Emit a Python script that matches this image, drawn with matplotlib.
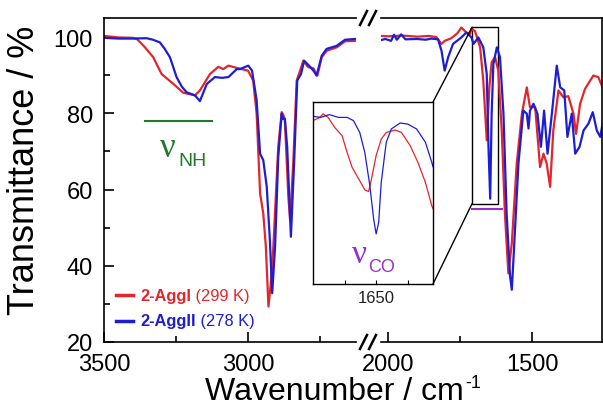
import numpy as np
import matplotlib
matplotlib.use('Agg')
from matplotlib import pyplot as plt
from matplotlib.lines import Line2D
from matplotlib.patches import Rectangle, ConnectionPatch
from matplotlib.ticker import MultipleLocator, FixedLocator

plt.rcParams['font.family'] = ['Liberation Sans', 'DejaVu Sans']

# ---- data ----
# high wavenumber part (3500 - 2625 cm-1)
hi_wn_red = [3500, 3450, 3400, 3386, 3360, 3329, 3300, 3259, 3225, 3184, 3167, 3132,
             3103, 3086, 3068, 3034, 3000, 2982, 2970, 2958, 2947, 2938, 2929, 2920,
             2912, 2895, 2883, 2877, 2872, 2860, 2854, 2843, 2831, 2819, 2808, 2791,
             2773, 2759, 2744, 2727, 2692, 2663, 2628]
hi_red = [100.3, 99.9, 99.8, 99.5, 97.5, 94.7, 90.3, 87.7, 85.4, 84.7, 86.0, 90.3,
          92.2, 91.6, 92.5, 91.8, 91.2, 88.6, 79.9, 59.0, 53.7, 45.0, 29.3, 36.0,
          45.0, 71.2, 80.3, 79.5, 78.1, 58.2, 52.0, 66.8, 88.6, 91.2, 93.8, 92.1,
          91.8, 89.9, 94.7, 96.4, 97.3, 98.9, 99.0]
hi_wn_blue = [3500, 3450, 3400, 3352, 3330, 3306, 3290, 3271, 3248, 3230, 3213, 3184,
              3167, 3143, 3115, 3090, 3068, 3039, 3028, 2999, 2986, 2970, 2958, 2947,
              2935, 2924, 2916, 2906, 2895, 2883, 2878, 2872, 2864, 2851, 2840, 2829,
              2816, 2805, 2788, 2773, 2762, 2744, 2727, 2692, 2663, 2628]
hi_blue = [99.8, 99.6, 99.6, 99.7, 99.3, 98.6, 97.0, 94.7, 89.5, 87.0, 85.5, 84.7,
           83.2, 87.7, 89.5, 89.3, 89.5, 91.6, 91.6, 92.5, 91.2, 83.4, 69.4, 67.7,
           60.8, 46.7, 32.8, 45.0, 68.5, 79.9, 78.5, 78.6, 71.2, 47.6, 66.8, 88.6,
           90.3, 93.8, 92.5, 91.2, 89.9, 95.1, 96.9, 97.7, 99.3, 99.5]

# low wavenumber part (2025 - 1255 cm-1)
lo_wn_red = [2025, 2000, 1950, 1900, 1860, 1833, 1815, 1804, 1781, 1760, 1746, 1729,
             1716, 1711, 1699, 1681, 1670, 1658, 1649, 1641, 1629, 1618, 1606, 1595,
             1583, 1571, 1554, 1536, 1519, 1508, 1490, 1473, 1461, 1450, 1438, 1427,
             1409, 1392, 1375, 1357, 1348, 1334, 1317, 1288, 1271, 1256]
lo_red = [100.3, 100.2, 100.4, 100.1, 100.3, 100.0, 98.2, 99.0, 99.7, 101.0, 102.5, 101.2,
          100.8, 102.1, 101.6, 97.3, 88.6, 72.9, 86.8, 93.4, 94.7, 91.2, 75.5, 53.7,
          38.0, 45.9, 66.8, 79.9, 86.8, 81.6, 81.6, 65.9, 69.4, 66.8, 60.7, 75.5,
          86.0, 84.2, 84.5, 79.9, 74.6, 82.5, 86.4, 89.9, 89.5, 86.8]
lo_wn_blue = [2025, 2010, 1990, 1980, 1970, 1955, 1940, 1900, 1870, 1850, 1827, 1815,
              1804, 1792, 1775, 1746, 1729, 1711, 1704, 1687, 1670, 1658, 1652, 1646,
              1641, 1635, 1623, 1612, 1600, 1589, 1577, 1571, 1563, 1548, 1531, 1519,
              1513, 1508, 1496, 1482, 1470, 1459, 1447, 1432, 1415, 1403, 1389, 1378,
              1363, 1351, 1336, 1322, 1305, 1290, 1276, 1264, 1256]
lo_blue = [99.2, 99.5, 99.0, 100.6, 99.3, 100.7, 99.4, 99.5, 99.3, 99.6, 99.4, 96.4,
           91.2, 94.7, 98.2, 99.9, 101.2, 99.9, 98.2, 99.9, 97.3, 90.3, 71.2, 57.6,
           79.9, 92.9, 97.3, 94.7, 79.9, 53.7, 37.2, 33.7, 45.0, 66.8, 80.7, 79.9,
           76.0, 80.7, 82.5, 79.9, 71.2, 80.7, 69.4, 79.9, 92.5, 86.8, 86.0, 73.8,
           79.9, 69.4, 71.2, 75.5, 77.3, 80.3, 75.5, 73.8, 77.3]

# inset (nu CO region), own transmittance scale
in_wn_red = [1700, 1695, 1692, 1688, 1683, 1677, 1673, 1669, 1663, 1659, 1656, 1654,
             1650, 1646, 1642, 1635, 1630, 1623, 1617, 1611, 1606, 1605]
in_red = [96.7, 97.5, 98.6, 97.6, 94.8, 92.4, 87.6, 83.3, 79.5, 76.9, 76.4, 79.5,
          86.7, 91.4, 93.3, 94.0, 93.3, 89.5, 84.8, 79.0, 72.4, 71.5]
in_wn_blue = [1700, 1694, 1687, 1680, 1673, 1668, 1663, 1659, 1655, 1652, 1650, 1648,
              1646, 1642, 1638, 1631, 1625, 1618, 1611, 1606, 1605]
in_blue = [97.9, 97.6, 98.4, 97.6, 97.6, 96.7, 93.3, 87.6, 78.1, 68.6, 64.3, 67.6,
           79.0, 90.5, 94.3, 96.0, 95.7, 94.3, 90.5, 84.8, 83.5]

series_labels = [('2-AggI', ' (299 K)'), ('2-AggII', ' (278 K)')]

# band markers
nh_band = [3358, 3125]
nh_level = 78
co_band = [1709, 1605]
co_level = 55
zoom_box = [1619, 1709, 56.3, 102.6]   # x0, x1, y0, y1

RED = '#e3262b'
BLUE = '#1d1dd6'
GREEN = '#23792a'
PURPLE = '#9a2fc9'
NU_FONT = ['Liberation Serif', 'DejaVu Serif']

fig = plt.figure(figsize=(6.03, 4.10), dpi=100)
W, H = 603.0, 410.0

axl = fig.add_axes([104 / W, 1 - 343 / H, 252 / W, 324 / H])
axr = fig.add_axes([381 / W, 1 - 343 / H, 221 / W, 324 / H])

for ax in (axl, axr):
    ax.set_ylim(20, 105)
    for s in ax.spines.values():
        s.set_linewidth(1.2)
    ax.tick_params(which='both', direction='in', width=1.2, labelsize=17, pad=8)
    ax.tick_params(which='major', length=7)
    ax.tick_params(which='minor', length=4)

axl.set_xlim(3500, 2625)
axr.set_xlim(2025, 1258)
axl.spines['right'].set_visible(False)
axr.spines['left'].set_visible(False)
axr.tick_params(axis='y', which='both', left=False, labelleft=False)

axl.xaxis.set_major_locator(FixedLocator([3500, 3000]))
axl.xaxis.set_minor_locator(FixedLocator([3250, 2750]))
axr.xaxis.set_major_locator(FixedLocator([2000, 1500]))
axr.xaxis.set_minor_locator(FixedLocator([1750]))
axl.yaxis.set_major_locator(MultipleLocator(20))
axl.yaxis.set_minor_locator(MultipleLocator(10))

axl.plot(hi_wn_red, hi_red, color=RED, lw=1.6)
axl.plot(hi_wn_blue, hi_blue, color=BLUE, lw=1.6)
axr.plot(lo_wn_red, lo_red, color=RED, lw=1.6)
axr.plot(lo_wn_blue, lo_blue, color=BLUE, lw=1.6)

# band markers
axl.plot(nh_band, [nh_level, nh_level], color=GREEN, lw=1.5)
axl.text(3306, 68.9, '\u03bd', family=NU_FONT, fontsize=25, color=GREEN,
         ha='left', va='baseline')
axl.text(3243, 66.5, 'NH', fontsize=14, color=GREEN, ha='left', va='baseline')
axr.plot(co_band, [co_level, co_level], color=PURPLE, lw=1.5)

# zoom box
x0, x1, y0, y1 = zoom_box
axr.add_patch(Rectangle((x0, y0), x1 - x0, y1 - y0, fill=False, ec='black', lw=1.0))

# legend drawn by hand (bold name + plain temperature)
for (name, temp), col, yy in zip(series_labels, [RED, BLUE], [0.145, 0.065]):
    axl.plot([0.048, 0.115], [yy, yy], color=col, lw=2.5, transform=axl.transAxes)
    t = axl.text(0.143, yy, name, color=col, fontsize=11.8, fontweight='bold',
                 transform=axl.transAxes, va='center', ha='left')
    axl.annotate(temp, xy=(1, 0), xycoords=t, color=col, fontsize=11.8,
                 va='bottom', ha='left')

# inset
axin = fig.add_axes([313 / W, 1 - 285 / H, 120 / W, 182 / H])
axin.set_facecolor('white')
axin.plot(in_wn_red, in_red, color=RED, lw=0.9)
axin.plot(in_wn_blue, in_blue, color=BLUE, lw=0.9)
axin.set_xlim(1700, 1605)
axin.set_ylim(50, 102)
axin.set_yticks([])
axin.xaxis.set_major_locator(FixedLocator([1650]))
axin.xaxis.set_minor_locator(FixedLocator([1675, 1625]))
axin.tick_params(which='both', direction='in', length=3, width=0.8, labelsize=12,
                 labelcolor='#222222', pad=4)
for s in axin.spines.values():
    s.set_linewidth(1.0)
axin.text(0.325, 0.121, '\u03bd', family=NU_FONT, fontsize=24, color=PURPLE,
          transform=axin.transAxes, ha='left', va='baseline')
axin.text(0.458, 0.071, 'CO', fontsize=13, color=PURPLE, transform=axin.transAxes,
          ha='left', va='baseline')

for ya, yb in [(1, y1), (0, y0)]:
    con = ConnectionPatch(xyA=(1, ya), coordsA=axin.transAxes, xyB=(x1, yb),
                          coordsB=axr.transData, color='black', lw=1.0)
    fig.add_artist(con)

# axis break marks
for ypix in (19, 343):
    for xs in (360, 369):
        fig.add_artist(Line2D([xs / W, (xs + 7) / W],
                              [1 - (ypix + 7) / H, 1 - (ypix - 7) / H],
                              transform=fig.transFigure, color='black', lw=1.8))

fig.text(25 / W, 1 - 170 / H, 'Transmittance / %', rotation=90, fontsize=26,
         ha='center', va='center')
xl = fig.text(205 / W, 1 - 400 / H, 'Wavenumber / cm', fontsize=23,
              ha='left', va='baseline')
fig.canvas.draw()
fig.text(xl.get_window_extent().x1 / W + 1 / W, 1 - 388 / H, '-1', fontsize=13,
         ha='left', va='baseline')

fig.savefig('out.png', dpi=100)
